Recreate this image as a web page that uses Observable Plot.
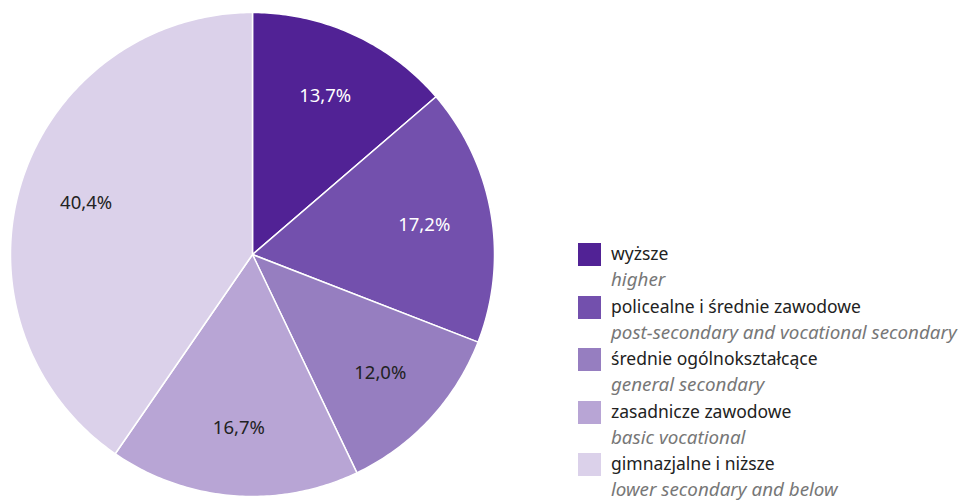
<!DOCTYPE html>
<html>
<head>
<meta charset="utf-8">
<script src="https://cdn.jsdelivr.net/npm/d3@7"></script>
<script src="https://cdn.jsdelivr.net/npm/@observablehq/plot@0.6"></script>
<style>
  html, body { margin: 0; padding: 0; background: #fff; }
  #wrap { position: relative; width: 967px; height: 501px; font-family: "Noto Sans", sans-serif; }
  #legend { position: absolute; left: 578px; top: 240px; }
  .item { display: flex; align-items: flex-start; height: 52.5px; }
  .sw { width: 23px; height: 23px; margin-top: 3px; margin-right: 10px; flex: none; }
  .pl { font-size: 17.5px; color: #222; line-height: 26px; white-space: nowrap; }
  .en { font-size: 18.8px; color: #777; font-style: italic; line-height: 26px; white-space: nowrap; }
</style>
</head>
<body>
<div id="wrap">
  <div id="chart"></div>
  <div id="legend"></div>
</div>
<script>
const categories = ["wyższe", "policealne i średnie zawodowe", "średnie ogólnokształcące", "zasadnicze zawodowe", "gimnazjalne i niższe"];
const englishLabels = ["higher", "post-secondary and vocational secondary", "general secondary", "basic vocational", "lower secondary and below"];
const values = [13.7, 17.2, 12.0, 16.7, 40.4];
const valueLabels = ["13,7%", "17,2%", "12,0%", "16,7%", "40,4%"];
const colors = ["#512295", "#7350ad", "#967ec0", "#b8a5d5", "#dbd1ea"];

const arcs = d3.pie().sort(null).value(d => d)(values);

// polygon points for each slice (unit circle, angle clockwise from top)
const slicePoints = [];
arcs.forEach((a, i) => {
  const n = Math.max(8, Math.ceil((a.endAngle - a.startAngle) * 80));
  slicePoints.push({cat: categories[i], x: 0, y: 0});
  for (let k = 0; k <= n; k++) {
    const t = a.startAngle + (a.endAngle - a.startAngle) * k / n;
    slicePoints.push({cat: categories[i], x: Math.sin(t), y: Math.cos(t)});
  }
  slicePoints.push({cat: categories[i], x: 0, y: 0});
});

const labelR = 0.72;
const labels = arcs.map((a, i) => {
  const m = (a.startAngle + a.endAngle) / 2;
  return {i, text: valueLabels[i], x: labelR * Math.sin(m), y: labelR * Math.cos(m)};
});

const chart = Plot.plot({
  width: 967,
  height: 501,
  margin: 0,
  x: {domain: [-1, 1], range: [10, 494], axis: null},
  y: {domain: [-1, 1], range: [496, 12], axis: null},
  color: {domain: categories, range: colors},
  style: {fontFamily: "Noto Sans, sans-serif", background: "white"},
  marks: [
    Plot.line(slicePoints, {x: "x", y: "y", z: "cat", fill: "cat", stroke: "white", strokeWidth: 1.5, strokeLinejoin: "round", curve: "linear"}),
    Plot.text(labels.filter(d => d.i < 2), {x: "x", y: "y", text: "text", fill: "white", fontSize: 18.5}),
    Plot.text(labels.filter(d => d.i >= 2), {x: "x", y: "y", text: "text", fill: "#222", fontSize: 18.5})
  ]
});
document.getElementById("chart").append(chart);

const legend = d3.select("#legend");
categories.forEach((c, i) => {
  const item = legend.append("div").attr("class", "item");
  item.append("div").attr("class", "sw").style("background", colors[i]);
  const txt = item.append("div");
  txt.append("div").attr("class", "pl").text(c);
  txt.append("div").attr("class", "en").text(englishLabels[i]);
});
</script>
</body>
</html>
